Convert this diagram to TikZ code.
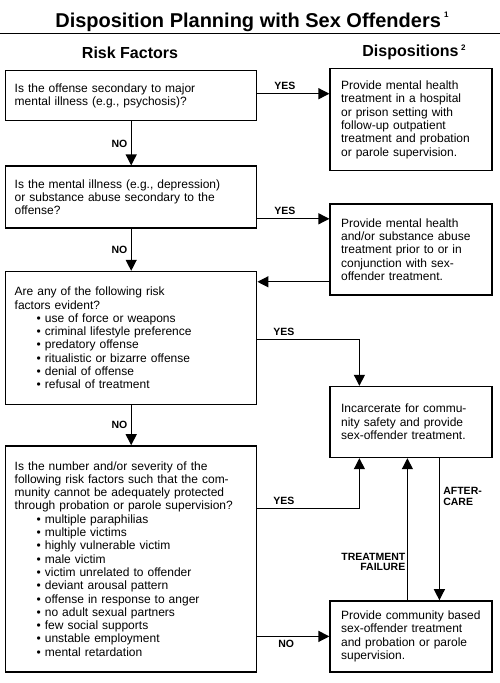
\documentclass[tikz,border=0pt]{standalone}
\usepackage{fontspec}
\setmainfont{Liberation Sans}
\usetikzlibrary{positioning,arrows.meta}
\newcommand{\riskitem}{\\\hspace*{22pt}\textbullet\ }
\newcommand{\notemark}[2]{\raisebox{#1}{\fontsize{8}{8}\selectfont #2}}

\begin{document}
\begin{tikzpicture}[node distance=40pt,
    riskbox/.style={draw, rectangle, line width=1.4pt, text width=233pt, inner xsep=9pt, align=left, font=\fontsize{12}{13.3}\selectfont},
    dispbox/.style={draw, rectangle, line width=1.4pt, text width=140pt, inner xsep=11pt, align=left, font=\fontsize{12}{13.3}\selectfont},
    flow/.style={-{Triangle[length=11pt,width=11pt]}, line width=1.2pt},
    lbl/.style={font=\bfseries\fontsize{10.5}{10.5}\selectfont}]
    \useasboundingbox (0pt,0pt) rectangle (500pt,-683pt);

    \node [anchor=base, font=\bfseries\fontsize{20}{24}\selectfont] (title) at (252pt,-27pt) {Disposition Planning with Sex Offenders\,\notemark{10pt}{1}};
    \draw[line width=1pt] (0pt,-33pt) -- (500pt,-33pt);
    \node [anchor=base, font=\bfseries\fontsize{16}{19}\selectfont] (risk) at (130pt,-58pt) {Risk Factors};
    \node [anchor=base, font=\bfseries\fontsize{16}{19}\selectfont] (disp) at (414pt,-56pt) {Dispositions\,\notemark{6pt}{2}};

    \node [riskbox, minimum height=50pt, anchor=north west] (offense) at (5pt,-70pt) {Is the offense secondary to major\\mental illness (e.g., psychosis)?};
    \node [riskbox, minimum height=62pt, below=44pt of offense] (illness) {Is the mental illness (e.g., depression)\\or substance abuse secondary to the\\offense?};
    \node [riskbox, minimum height=133pt, below=42pt of illness] (evident) {Are any of the following risk\\factors evident?\riskitem use of force or weapons\riskitem criminal lifestyle preference\riskitem predatory offense\riskitem ritualistic or bizarre offense\riskitem denial of offense\riskitem refusal of treatment};
    \node [riskbox, minimum height=226pt, below=40pt of evident] (severity) {Is the number and/or severity of the\\following risk factors such that the com-\\munity cannot be adequately protected\\through probation or parole supervision?\riskitem multiple paraphilias\riskitem multiple victims\riskitem highly vulnerable victim\riskitem male victim\riskitem victim unrelated to offender\riskitem deviant arousal pattern\riskitem offense in response to anger\riskitem no adult sexual partners\riskitem few social supports\riskitem unstable employment\riskitem mental retardation};

    \node [dispbox, minimum height=102pt, right=72pt of offense.north east, anchor=north west, yshift=2pt] (hospital) {Provide mental health\\treatment in a hospital\\or prison setting with\\follow-up outpatient\\treatment and probation\\or parole supervision.};
    \node [dispbox, minimum height=91pt, below=32pt of hospital] (conjunct) {Provide mental health\\and/or substance abuse\\treatment prior to or in\\conjunction with sex-\\offender treatment.};
    \node [dispbox, minimum height=71pt, below=90pt of conjunct] (incarcerate) {Incarcerate for commu-\\nity safety and provide\\sex-offender treatment.};
    \node [dispbox, minimum height=71pt, below=142pt of incarcerate] (community) {Provide community based\\sex-offender treatment\\and probation or parole\\supervision.};

    % yes / no flow
    \draw[flow] ([yshift=2pt]offense.east) -- node[lbl, above, pos=0.38]{YES} ([yshift=2pt]offense.east -| hospital.west);
    \draw[flow] (offense) -- node[lbl, left]{NO} (illness);
    \draw[flow] ([yshift=10pt]illness.south east) -- node[lbl, above, pos=0.38]{YES} ([yshift=10pt]illness.south east -| conjunct.west);
    \draw[flow] ([yshift=14pt]conjunct.south west) -- ([yshift=14pt]conjunct.south west -| evident.east);
    \draw[flow] (illness) -- node[lbl, left]{NO} (evident);
    \draw[flow] ([yshift=-69pt]evident.north east) -| node[lbl, above, pos=0.13]{YES} ([xshift=30pt]incarcerate.north west);
    \draw[flow] (evident) -- node[lbl, left]{NO} (severity);
    \draw[flow] ([yshift=-63pt]severity.north east) -| node[lbl, above, pos=0.13]{YES} ([xshift=30pt]incarcerate.south west);
    \draw[flow] (severity.east |- community.west) -- node[lbl, below, pos=0.4]{NO} (community.west);

    % between dispositions
    \draw[flow] ([xshift=78pt]community.north west) -- node[lbl, left, inner sep=1.5pt, pos=0.27, align=right]{TREATMENT\\FAILURE} ([xshift=78pt]incarcerate.south west);
    \draw[flow] ([xshift=110pt]incarcerate.south west) -- node[lbl, right, pos=0.27, align=left]{AFTER-\\CARE} ([xshift=110pt]community.north west);
\end{tikzpicture}
\end{document}
